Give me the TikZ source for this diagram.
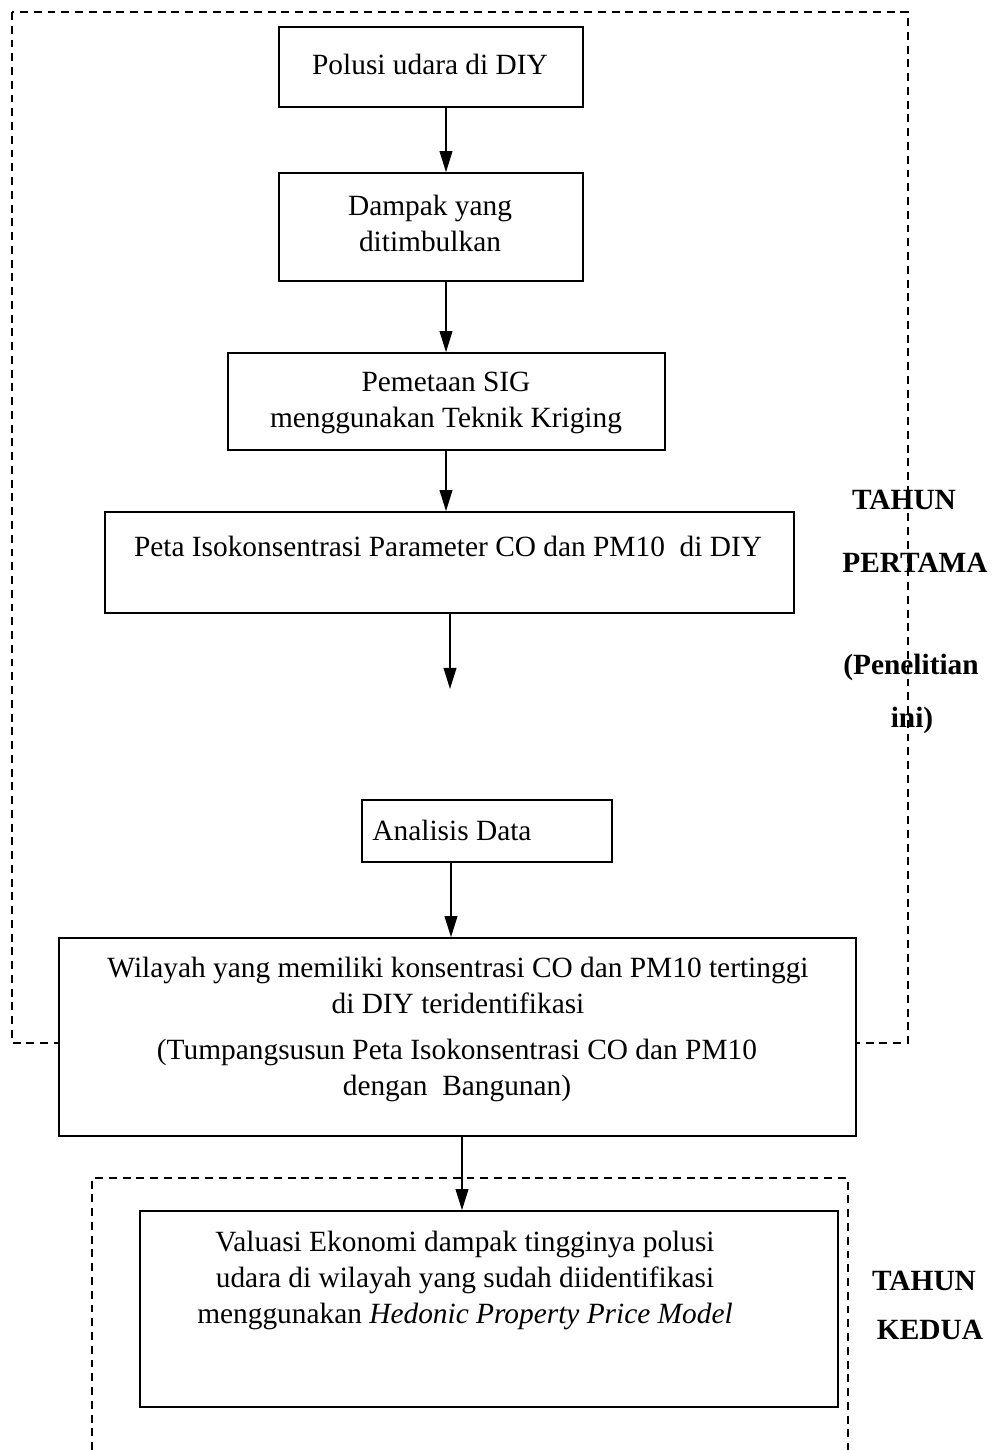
\documentclass[tikz,border=0pt]{standalone}
\usepackage{fontspec}
\setmainfont{Liberation Serif}
\usetikzlibrary{arrows.meta,fit}

\begin{document}
\begin{tikzpicture}[
            x=0.378pt, y=-0.378pt,
            box/.style={
                rectangle,
                draw=black,
                line width=0.6pt,
                fill=white,
                inner sep=0pt
            },
            txt/.style={
                align=center,
                inner sep=0pt,
                font=\fontsize{11.1}{13.6}\selectfont
            },
            year/.style={
                inner sep=0pt,
                font=\fontsize{11.1}{13.6}\selectfont\bfseries
            },
            frame/.style={draw=black, line width=0.6pt, dash pattern=on 3pt off 2.2pt},
            arrow/.style={-{Triangle[length=8pt,width=4.8pt]}, line width=0.7pt}
        ]
        \useasboundingbox (0,0) rectangle (1004,1450);

        % Dashed frames for the two years
        \draw[frame] (12,12) rectangle (908,1043);
        \draw[frame] (92,1450) |- (848,1178) -- (848,1450);

        % Boxes
        \node[box, fit={(279,27) (583,107)}] (polusi) {};
        \node[box, fit={(279,173) (583,281)}] (dampak) {};
        \node[box, fit={(228,353) (665,450)}] (pemetaan) {};
        \node[box, fit={(105,512) (794,613)}] (peta) {};
        \node[box, fit={(362,800) (612,862)}] (analisis) {};
        \node[box, fit={(59,938) (856,1136)}] (wilayah) {};
        \node[box, fit={(140,1211) (838,1407)}] (valuasi) {};

        % Box texts
        \node[txt] (t1) at (430,64) {Polusi udara di DIY};
        \node[txt] (t2) at (430,223) {Dampak yang\\ditimbulkan};
        \node[txt] (t3) at (446,403) {Pemetaan SIG\\menggunakan Teknik Kriging};
        \node[txt] (t4) at (448,546) {Peta Isokonsentrasi Parameter CO dan PM10~~di DIY};
        \node[txt] (t5) at (452,830) {Analisis Data};
        \node[txt] (t6) at (458,985) {Wilayah yang memiliki konsentrasi CO dan PM10 tertinggi\\di DIY teridentifikasi};
        \node[txt] (t7) at (457,1070) {(Tumpangsusun Peta Isokonsentrasi CO dan PM10\\dengan~~Bangunan)};
        \node[txt] (t8) at (465,1280) {Valuasi Ekonomi dampak tingginya polusi\\udara di wilayah yang sudah diidentifikasi\\menggunakan \textit{Hedonic Property Price Model}};

        % Year labels
        \node[year] (tahun1) at (904,500) {TAHUN};
        \node[year] (pertama) at (915,563) {PERTAMA};
        \node[year] (penelitian) at (911,667) {(Penelitian};
        \node[year] (ini) at (912,720) {ini)};
        \node[year] (tahun2) at (924,1281) {TAHUN};
        \node[year] (kedua) at (930,1330) {KEDUA};

        % Connecting arrows
        \coordinate (c1) at (446,0);
        \coordinate (c2) at (450,0);
        \coordinate (c3) at (451,0);
        \coordinate (c4) at (462,0);
        \coordinate (open) at (450,689);
        \draw[arrow] (polusi.south -| c1) -- (dampak.north -| c1);
        \draw[arrow] (dampak.south -| c1) -- (pemetaan.north -| c1);
        \draw[arrow] (pemetaan.south -| c1) -- (peta.north -| c1);
        \draw[arrow] (peta.south -| c2) -- (open);
        \draw[arrow] (analisis.south -| c3) -- (wilayah.north -| c3);
        \draw[arrow] (wilayah.south -| c4) -- (valuasi.north -| c4);

\end{tikzpicture}
\end{document}
